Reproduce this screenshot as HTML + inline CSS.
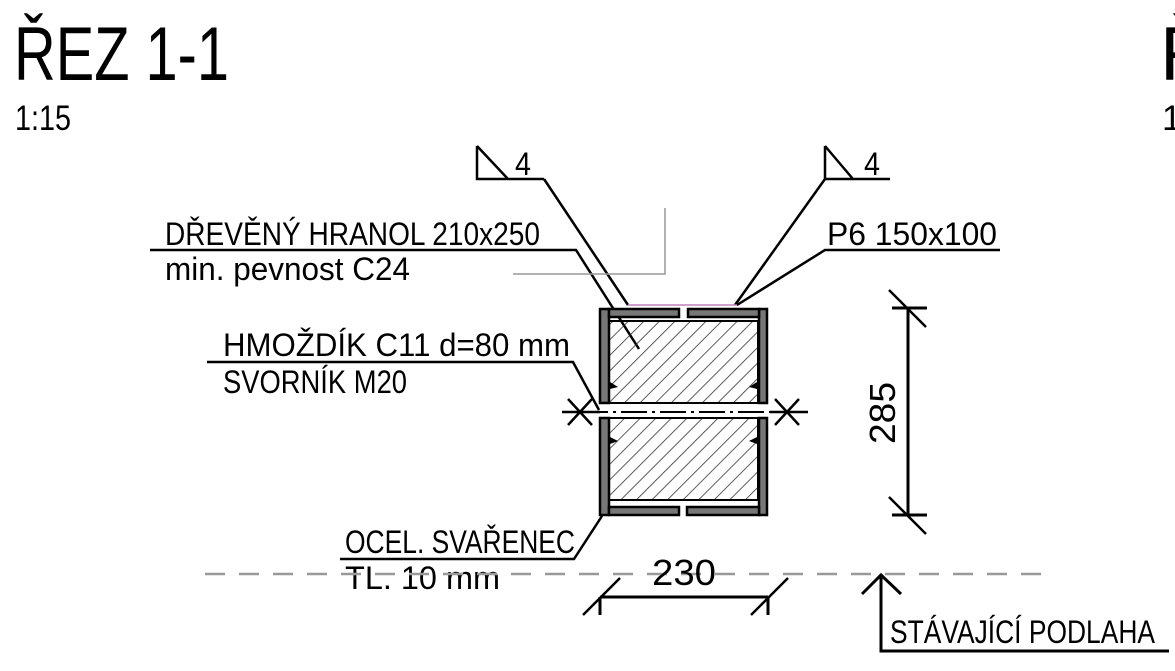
<!DOCTYPE html>
<html><head><meta charset="utf-8"><style>
html,body{margin:0;padding:0;background:#fff;width:1175px;height:671px;overflow:hidden}
svg{display:block}
text{font-family:"Liberation Sans",sans-serif;fill:#000}
</style></head><body>
<svg width="1175" height="671" viewBox="0 0 1175 671" xmlns="http://www.w3.org/2000/svg">
<defs>
<pattern id="h" patternUnits="userSpaceOnUse" width="11" height="11" patternTransform="rotate(45)">
<line x1="0" y1="0" x2="0" y2="11" stroke="#333" stroke-width="1.6"/>
</pattern>
</defs>
<!-- titles -->
<text x="14" y="80" font-size="76" textLength="215" lengthAdjust="spacingAndGlyphs">ŘEZ 1-1</text>
<text x="15" y="130" font-size="35" textLength="56" lengthAdjust="spacingAndGlyphs">1:15</text>
<text x="1160" y="80" font-size="76">Ř</text>
<text x="1162" y="130" font-size="35">1</text>

<g stroke="#000" stroke-width="2.5" fill="none">
<path d="M477,146 V179 H544 M477,146 L508,179"/>
<path d="M544,179 L628,305"/>
<path d="M825,146 V179 H890 M825,146 L853,179"/>
<path d="M825,179 L735,305"/>
<path d="M1000,250 H825 L737,305"/>
<path d="M150,250 H576 L639,349"/>
<path d="M207,362 H573 L599,410"/>
<path d="M340,559 H574 L602,516"/>
</g>
<path d="M513,274 H665 V208" stroke="#999" stroke-width="1.5" fill="none"/>

<text x="165" y="245" font-size="32" textLength="375" lengthAdjust="spacingAndGlyphs">DŘEVĚNÝ HRANOL 210x250</text>
<text x="165" y="280" font-size="32" textLength="245" lengthAdjust="spacingAndGlyphs">min. pevnost C24</text>
<text x="827" y="245" font-size="32" textLength="170" lengthAdjust="spacingAndGlyphs">P6 150x100</text>
<text x="515" y="175" font-size="32" textLength="16" lengthAdjust="spacingAndGlyphs">4</text>
<text x="864" y="175" font-size="32" textLength="16" lengthAdjust="spacingAndGlyphs">4</text>
<text x="223" y="356" font-size="32" textLength="347" lengthAdjust="spacingAndGlyphs">HMOŽDÍK C11 d=80 mm</text>
<text x="223" y="393" font-size="32" textLength="184" lengthAdjust="spacingAndGlyphs">SVORNÍK M20</text>
<text x="345" y="553" font-size="32" textLength="230" lengthAdjust="spacingAndGlyphs">OCEL. SVAŘENEC</text>
<text x="345" y="589" font-size="32" textLength="155" lengthAdjust="spacingAndGlyphs">TL. 10 mm</text>

<line x1="205" y1="574" x2="1048" y2="574" stroke="#999" stroke-width="2.5" stroke-dasharray="20,14"/>

<rect x="609" y="321" width="149" height="82" fill="url(#h)" stroke="#000" stroke-width="2"/>
<rect x="609" y="418" width="149" height="82" fill="url(#h)" stroke="#000" stroke-width="2"/>
<g fill="#777" stroke="#000" stroke-width="2.5">
<rect x="600" y="309" width="9" height="94"/>
<rect x="600" y="418" width="9" height="97"/>
<rect x="759" y="309" width="8" height="94"/>
<rect x="759" y="418" width="8" height="97"/>
<rect x="609" y="309" width="70" height="8"/>
<rect x="688" y="309" width="71" height="8"/>
<rect x="609" y="507" width="70" height="8"/>
<rect x="687" y="507" width="72" height="8"/>
</g>
<line x1="628" y1="305" x2="737" y2="305" stroke="#c080c0" stroke-width="1.5"/>
<g fill="#000">
<path d="M610,382 L618,387 L610,389Z"/><path d="M757,382 L749,387 L757,389Z"/>
<path d="M610,437 L618,441 L610,444Z"/><path d="M757,437 L749,441 L757,444Z"/>
</g>
<line x1="582" y1="412" x2="785" y2="412" stroke="#000" stroke-width="2" stroke-dasharray="26,5,3,5"/>
<g stroke="#000" stroke-width="2.5">
<line x1="562" y1="412" x2="600" y2="412"/><line x1="770" y1="412" x2="808" y2="412"/>
<line x1="568" y1="399" x2="592" y2="425"/><line x1="568" y1="425" x2="592" y2="399"/>
<line x1="775" y1="399" x2="799" y2="425"/><line x1="775" y1="425" x2="799" y2="399"/>
</g>

<g stroke="#000" stroke-width="3">
<line x1="600" y1="597" x2="768" y2="597"/>
<line x1="600" y1="597" x2="600" y2="615"/><line x1="768" y1="597" x2="768" y2="615"/>
<line x1="583" y1="615" x2="620" y2="578" stroke-width="2.5"/>
<line x1="751" y1="615" x2="788" y2="578" stroke-width="2.5"/>
</g>
<text x="652" y="585" font-size="36" textLength="64" lengthAdjust="spacingAndGlyphs">230</text>

<g stroke="#000" stroke-width="3">
<line x1="908" y1="308" x2="908" y2="515"/>
<line x1="892" y1="308" x2="927" y2="308"/><line x1="892" y1="515" x2="927" y2="515"/>
<line x1="889" y1="290" x2="926" y2="327" stroke-width="2.5"/>
<line x1="889" y1="497" x2="926" y2="534" stroke-width="2.5"/>
</g>
<text x="0" y="0" font-size="36" transform="translate(895,444) rotate(-90)" textLength="62" lengthAdjust="spacingAndGlyphs">285</text>

<g stroke="#000" stroke-width="3" fill="none">
<path d="M881,575 V651 H1169"/>
<path d="M862,594 L881,575 L901,594"/>
</g>
<text x="890" y="643" font-size="32" textLength="265" lengthAdjust="spacingAndGlyphs">STÁVAJÍCÍ PODLAHA</text>
</svg>
</body></html>
